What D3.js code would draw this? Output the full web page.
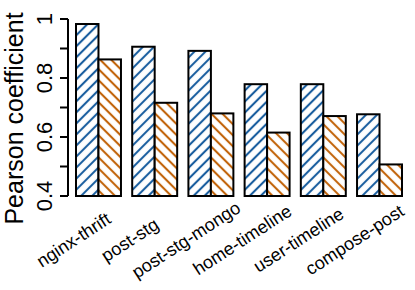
<!DOCTYPE html>
<html>
<head>
<meta charset="utf-8">
<script src="https://cdn.jsdelivr.net/npm/d3@7"></script>
<style>
  body { margin: 0; background: #fff; }
  text { font-family: "Liberation Sans", Arial, Helvetica, sans-serif; fill: #000; }
</style>
</head>
<body>
<div id="chart"></div>
<script>
var services = ['nginx-thrift', 'post-stg', 'post-stg-mongo', 'home-timeline', 'user-timeline', 'compose-post']
var blueVals = [0.983, 0.906, 0.892, 0.779, 0.779, 0.677]   // first series (blue, /// hatch)
var orangeVals = [0.863, 0.716, 0.680, 0.615, 0.671, 0.507] // second series (orange, \\\ hatch)
var yTicks = [0.4, 0.5, 0.6, 0.7, 0.8, 0.9, 1]
var yLabels = [0.4, 0.6, 0.8, 1]

var W = 415, H = 290
var margin = {left: 68, top: 19, right: 8, bottom: 94}
var width = W - margin.left - margin.right
var height = H - margin.top - margin.bottom

var svg = d3.select('#chart').append('svg')
  .attr('width', W).attr('height', H)

var defs = svg.append('defs')
function hatch(id, color, angle){
  var s = 7.8
  var p = defs.append('pattern')
    .attr('id', id)
    .attr('patternUnits', 'userSpaceOnUse')
    .attr('width', s).attr('height', s)
    .attr('patternTransform', 'rotate(' + angle + ')')
  p.append('rect').attr('width', s).attr('height', s).attr('fill', '#fff')
  p.append('line').attr('x1', s / 2).attr('y1', 0).attr('x2', s / 2).attr('y2', s)
    .attr('stroke', color).attr('stroke-width', 2.1)
}
hatch('hBlue', '#1a5e9f', 45)
hatch('hOrange', '#c2650c', -45)

var g = svg.append('g').attr('transform', 'translate(' + margin.left + ',' + margin.top + ')')

var x0 = d3.scaleBand().domain(services).range([8, 334]).paddingInner(0.2).paddingOuter(0)
var x1 = d3.scaleBand().domain(['a', 'b']).range([0, x0.bandwidth()])
var y = d3.scaleLinear().domain([0.4, 1]).range([height, 0])

var rows = services.map(function(s, i){ return {name: s, a: blueVals[i], b: orangeVals[i]} })

var grp = g.selectAll('g.grp').data(rows).enter().append('g')
  .attr('transform', function(d){ return 'translate(' + x0(d.name) + ',0)' })

grp.selectAll('rect').data(function(d){
    return [{k: 'a', v: d.a, fill: 'url(#hBlue)'}, {k: 'b', v: d.b, fill: 'url(#hOrange)'}]
  }).enter().append('rect')
  .attr('x', function(d){ return x1(d.k) })
  .attr('width', x1.bandwidth())
  .attr('y', function(d){ return y(d.v) })
  .attr('height', function(d){ return height - y(d.v) })
  .attr('fill', function(d){ return d.fill })
  .attr('stroke', '#000').attr('stroke-width', 2)

// y axis, R style
var yAxis = g.append('g')
yAxis.append('line').attr('x1', 0).attr('x2', 0).attr('y1', y(1)).attr('y2', y(0.4))
  .attr('stroke', '#000').attr('stroke-width', 2)
yAxis.selectAll('line.tick').data(yTicks).enter().append('line')
  .attr('x1', -8).attr('x2', 0)
  .attr('y1', function(d){ return y(d) }).attr('y2', function(d){ return y(d) })
  .attr('stroke', '#000').attr('stroke-width', 2)
yAxis.selectAll('text').data(yLabels).enter().append('text')
  .attr('transform', function(d){ return 'translate(-16,' + y(d) + ') rotate(-90)' })
  .attr('text-anchor', 'middle')
  .style('font-size', '22px')
  .text(function(d){ return d3.format('')(d) })

g.append('text')
  .attr('transform', 'translate(' + (23 - margin.left) + ',' + (118.5 - margin.top) + ') rotate(-90)')
  .attr('text-anchor', 'middle')
  .style('font-size', '25px')
  .text('Pearson coefficient')

// rotated category labels, centred under the left edge of each group
g.selectAll('text.xl').data(services).enter().append('text')
  .attr('class', 'xl')
  .attr('transform', function(d){
    return 'translate(' + (x0(d) + 1) + ',' + (245 - margin.top) + ') rotate(-33)'
  })
  .attr('text-anchor', 'middle')
  .style('font-size', '18px')
  .text(function(d){ return d })
</script>
</body>
</html>
